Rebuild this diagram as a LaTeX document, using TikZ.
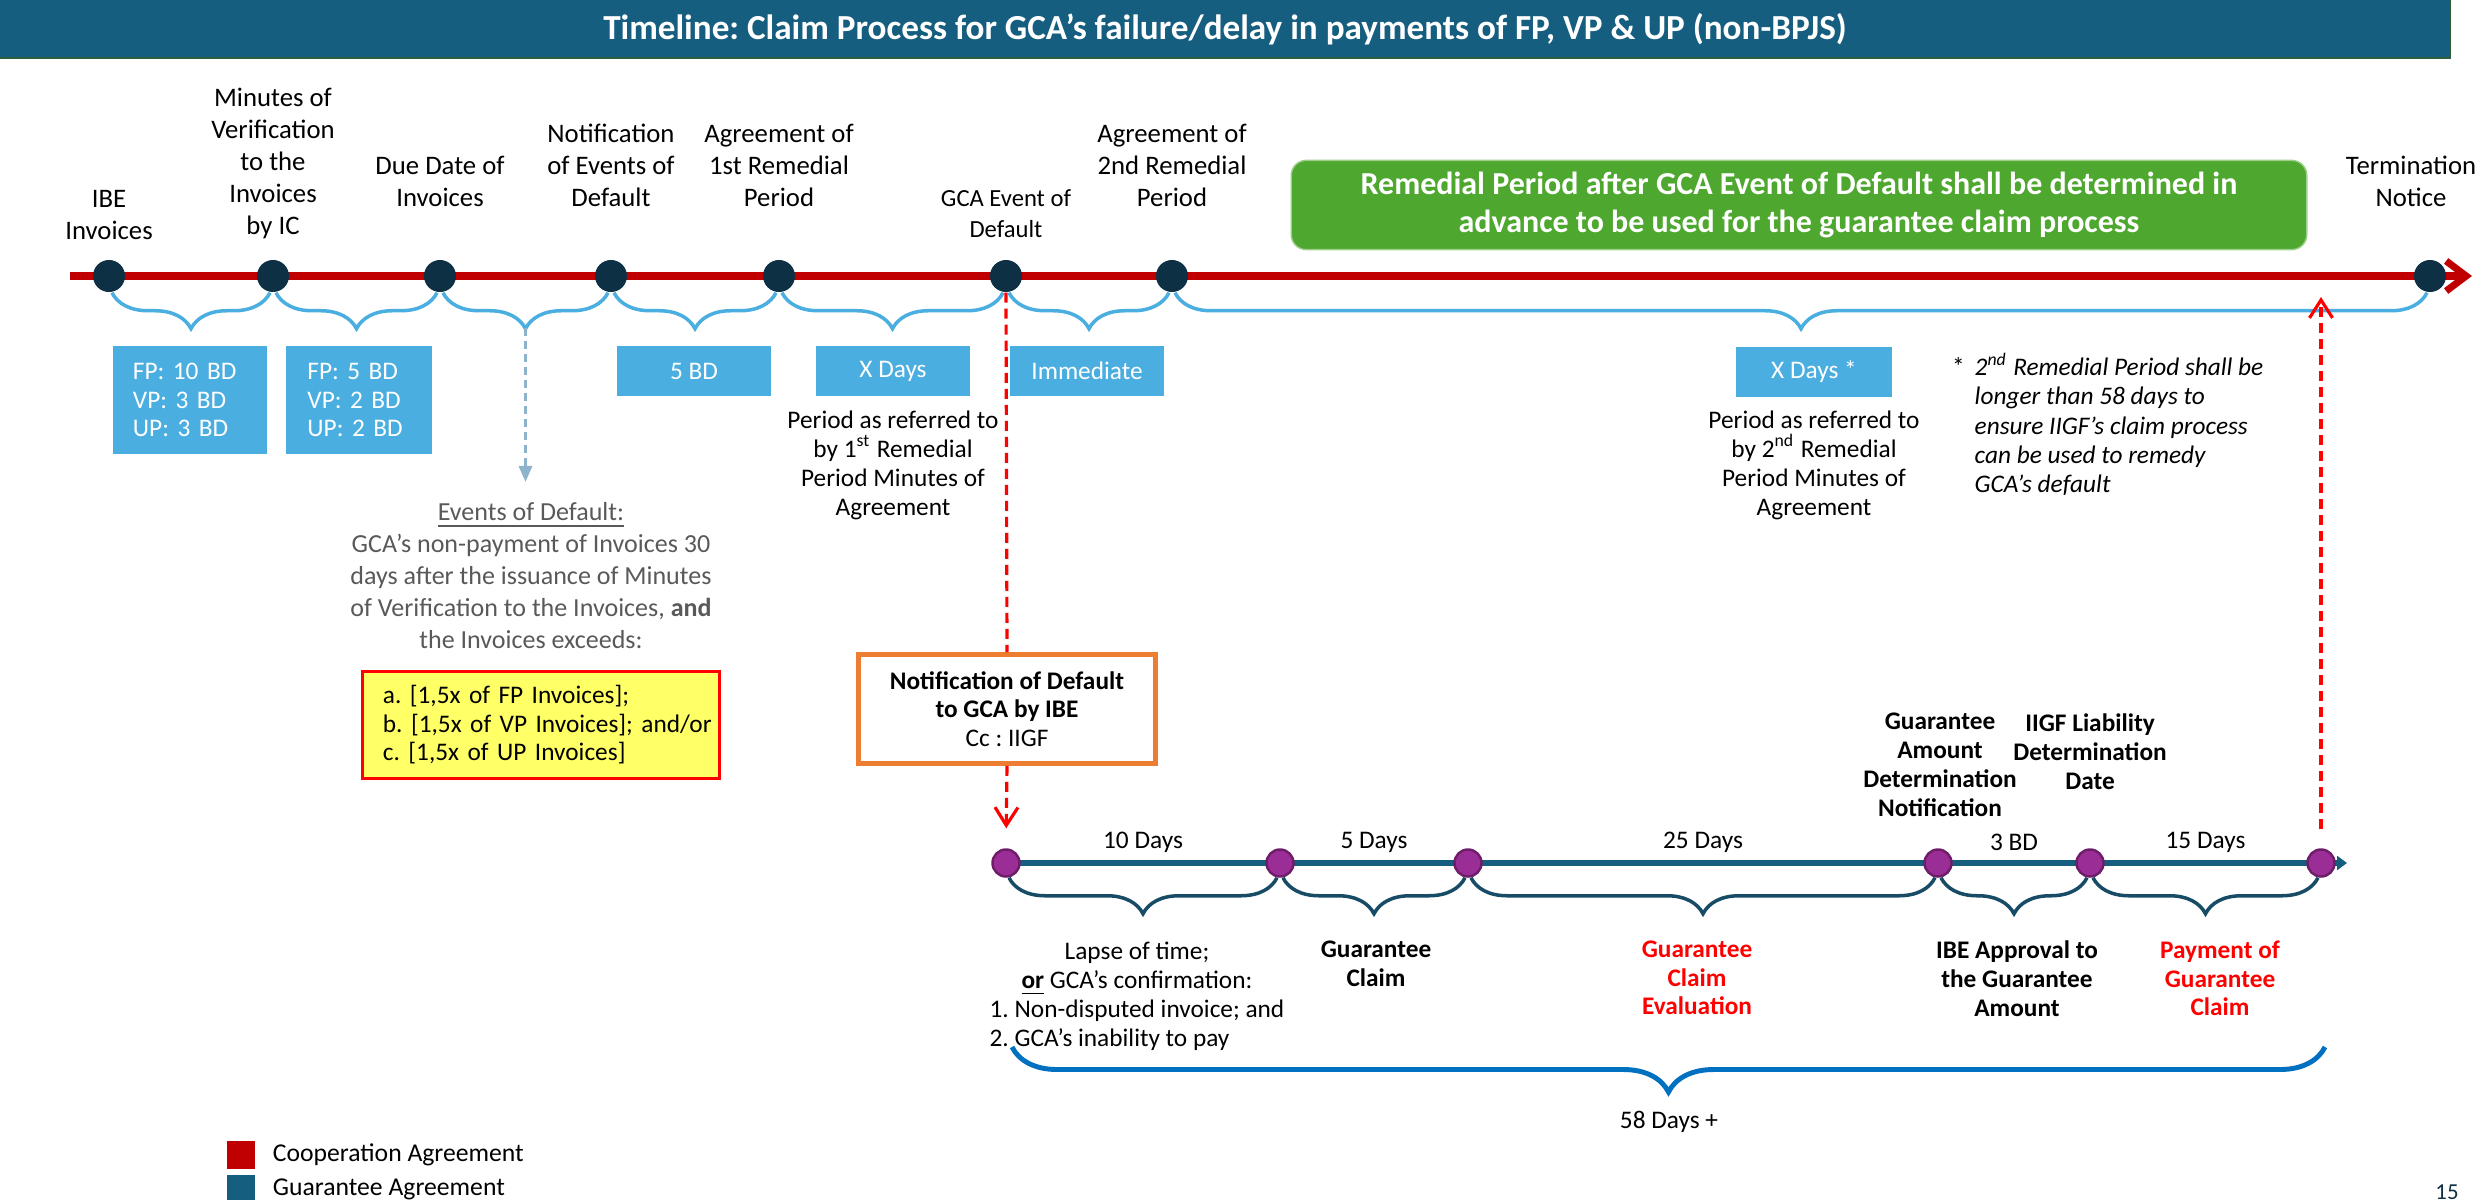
\documentclass[tikz,border=0pt]{standalone}
\usepackage{fontspec}
\setmainfont{Carlito}
\frenchspacing
\usetikzlibrary{calc, positioning, arrows.meta, decorations.pathreplacing}
\definecolor{titleblue}{RGB}{22,94,128}
\definecolor{titlerim}{RGB}{46,94,62}
\definecolor{coopred}{RGB}{192,0,0}
\definecolor{dotnavy}{RGB}{14,48,68}
\definecolor{skyblue}{RGB}{75,174,224}
\definecolor{guarteal}{RGB}{22,94,128}
\definecolor{bracenavy}{RGB}{24,76,102}
\definecolor{dotpurple}{RGB}{155,45,150}
\definecolor{rimpurple}{RGB}{110,30,105}
\definecolor{leafgreen}{RGB}{78,167,46}
\definecolor{boxorange}{RGB}{237,125,49}
\definecolor{notered}{RGB}{255,0,0}
\definecolor{textgray}{RGB}{89,89,89}
\definecolor{steel}{RGB}{142,180,203}
\definecolor{lemon}{RGB}{255,255,102}
\definecolor{brightblue}{RGB}{0,112,192}

\begin{document}
\begin{tikzpicture}[x=0.01cm, y=-0.01cm,
    lab/.style={font=\fontsize{7.6}{9.1}\selectfont, align=center, inner sep=0pt},
    note/.style={font=\fontsize{7.2}{8.3}\selectfont, align=center, inner sep=0pt},
    strong/.style={font=\fontsize{7.2}{8.2}\selectfont\bfseries, align=center, inner sep=0pt},
    evdot/.style={circle, fill=dotnavy, minimum size=0.32cm, inner sep=0pt},
    claimdot/.style={circle, fill=dotpurple, draw=rimpurple, line width=0.7pt, minimum size=0.27cm, inner sep=0pt},
    period/.style={fill=skyblue, text=white, font=\fontsize{7.2}{8.2}\selectfont, minimum height=0.49cm, inner sep=0pt},
    skybrace/.style={decorate, decoration={brace, mirror, amplitude=0.36cm}, draw=skyblue, line width=1pt},
    tealbrace/.style={decorate, decoration={brace, mirror, amplitude=0.36cm}, draw=bracenavy, line width=1pt},
    rdash/.style={draw=notered, line width=0.9pt, dash pattern=on 0.1cm off 0.06cm},
    rtip/.style={-{Straight Barb[length=0.18cm, width=0.23cm]}}]
  \useasboundingbox (0,0) rectangle (2484,1200);

  % title bar
  \fill[titleblue] (0,0) rectangle (2450,58);
  \draw[titlerim, line width=0.5pt] (0,58) -- (2450,58) -- (2450,0);
  \node[font=\fontsize{10}{11}\selectfont\bfseries, text=white] (title) at (1225,29)
    {Timeline: Claim Process for GCA’s failure/delay in payments of FP, VP \& UP (non-BPJS)};

  % cooperation agreement line
  \coordinate (redstart) at (70,276);
  \coordinate (redend) at (2472,276);
  \draw[coopred, line width=2pt, -{Straight Barb[length=0.2cm, width=0.3cm]}] (redstart) -- (redend);
  \foreach \x/\n in {109/ibe, 273/mov, 440/due, 611/notif, 779/agrone, 1006/gcaed, 1172/agrtwo, 2430/term}
    \node[evdot] (\n) at (\x,276) {};
  \foreach \a/\b in {ibe/mov, mov/due, due/notif, notif/agrone, agrone/gcaed, gcaed/agrtwo, agrtwo/term}
    \draw[skybrace] ([xshift=0.03cm]\a.south) -- ([xshift=-0.03cm]\b.south);

  \node[lab, anchor=south] (ibelab) at (ibe |- 0,240) {IBE\\Invoices};
  \node[lab, anchor=south] (movlab) at (mov |- 0,240) {Minutes of\\Verification\\to the\\Invoices\\by IC};
  \node[lab, anchor=south] (duelab) at (due |- 0,207) {Due Date of\\Invoices};
  \node[lab, anchor=south] (notiflab) at (notif |- 0,207) {Notification\\of Events of\\Default};
  \node[lab, anchor=south] (agronelab) at (agrone |- 0,207) {Agreement of\\1st Remedial\\Period};
  \node[lab, font=\fontsize{7}{8.6}\selectfont, anchor=south] (gcaedlab) at (gcaed |- 0,238) {GCA Event of\\Default};
  \node[lab, anchor=south] (agrtwolab) at (agrtwo |- 0,207) {Agreement of\\2nd Remedial\\Period};
  \node[lab, anchor=south] (termlab) at (2411,207) {Termination\\Notice};

  % remedial period banner
  \node[fill=leafgreen, draw=leafgreen!55, rounded corners=0.15cm, minimum width=10.15cm, minimum height=0.89cm,
        text=white, align=center, font=\fontsize{9.1}{10.8}\selectfont\bfseries] (remedy) at (1799,205)
    {Remedial Period after GCA Event of Default shall be determined in\\advance to be used for the guarantee claim process};

  % durations on the first line
  \node[period, minimum width=1.54cm, minimum height=1.07cm, align=left, text width=1.14cm, inner xsep=0.2cm] (fpten) at (190,400)
    {FP: 10 BD\\VP: 3 BD\\UP: 3 BD};
  \node[period, minimum width=1.45cm, minimum height=1.07cm, align=left, text width=1.03cm, inner xsep=0.21cm] (fpfive) at (359,400)
    {FP: 5 BD\\VP: 2 BD\\UP: 2 BD};
  \node[period, minimum width=1.53cm] (fivebd) at (694,371) {5 BD};
  \node[period, minimum width=1.53cm] (xdays) at (893,371) {X Days};
  \node[period, minimum width=1.54cm] (immediate) at (1087,371) {Immediate};
  \node[period, minimum width=1.55cm] (xdaysstar) at (1814,372) {X Days *};

  \node[note, anchor=north] (firstref) at (893,410)
    {Period as referred to\\by 1\textsuperscript{st} Remedial\\Period Minutes of\\Agreement};
  \node[note, anchor=north] (secondref) at (1814,410)
    {Period as referred to\\by 2\textsuperscript{nd} Remedial\\Period Minutes of\\Agreement};
  \node[note, font=\fontsize{7.2}{8.3}\selectfont\itshape, align=left, anchor=north west] (footnote) at (1974,352)
    {\llap{\upshape*\hspace{0.1cm}}2\textsuperscript{nd} Remedial Period shall be\\longer than 58 days to\\ensure IIGF’s claim process\\can be used to remedy\\GCA’s default};

  % events of default
  \coordinate (eodtip) at ($(due)!0.5!(notif)+(0,52)$);
  \node[lab, font=\fontsize{7.4}{9.1}\selectfont, text=textgray, anchor=north] (eod) at (531,502)
    {\underline{Events of Default:}\\GCA’s non-payment of Invoices 30\\days after the issuance of Minutes\\of Verification to the Invoices, \textbf{and}\\the Invoices exceeds:};
  \draw[steel, line width=0.9pt, dash pattern=on 0.08cm off 0.05cm, -{Triangle[length=0.16cm, width=0.13cm]},
        shorten >=0.2cm] (eodtip) -- (eodtip |- eod.north);
  \node[draw=notered, fill=lemon, line width=0.8pt, minimum width=3.56cm, minimum height=1.07cm, align=left,
        text width=3.16cm, inner xsep=0.2cm, font=\fontsize{7.2}{8.1}\selectfont] (limits) at (541,725)
    {\mbox{a. [1,5x of FP Invoices];}\\\mbox{b. [1,5x of VP Invoices]; and/or}\\\mbox{c. [1,5x of UP Invoices]}};

  % notification of default
  \node[draw=boxorange, line width=1.3pt, minimum width=2.97cm, minimum height=1.09cm, align=center,
        font=\fontsize{7.2}{8.1}\selectfont] (notice) at (1007,709)
    {\textbf{Notification of Default}\\\textbf{to GCA by IBE}\\Cc : IIGF};

  % guarantee agreement line
  \coordinate (claimstart) at (1006,863);
  \coordinate (claimend) at (2347,863);
  \draw[guarteal, line width=1.7pt, -{Triangle[length=0.1cm, width=0.14cm]}] (claimstart) -- (claimend);
  \foreach \x/\n in {1006/notify, 1280/claim, 1468/evaluate, 1938/amount, 2090/liability, 2321/payout}
    \node[claimdot] (\n) at (\x,863) {};
  \foreach \a/\b in {notify/claim, claim/evaluate, evaluate/amount, amount/liability, liability/payout}
    \draw[tealbrace] ([xshift=0.03cm]\a.south) -- ([xshift=-0.03cm]\b.south);

  \draw[rdash] (gcaed.south) -- (notice.north);
  \draw[rdash, rtip, shorten >=0.2cm] (notice.south) -- (notify.north);
  \coordinate (backup) at (2321,297);
  \draw[rdash, rtip, shorten <=0.19cm] (payout.north) -- (backup);

  \node[note] (tendays) at ($(notify)!0.5!(claim)+(0,-21)$) {10 Days};
  \node[note] (fivedays) at ($(claim)!0.5!(evaluate)+(0,-21)$) {5 Days};
  \node[note] (twentyfive) at ($(evaluate)!0.5!(amount)+(0,-21)$) {25 Days};
  \node[note] (threebd) at ($(amount)!0.5!(liability)+(0,-21)$) {3 BD};
  \node[note] (fifteen) at ($(liability)!0.5!(payout)+(0,-21)$) {15 Days};

  \node[strong, anchor=south] (gadn) at (1940,817) {Guarantee\\Amount\\Determination\\Notification};
  \node[strong, anchor=south] (ildd) at (2090,790) {IIGF Liability\\Determination\\Date};

  \node[inner sep=0pt, anchor=north, font=\fontsize{7.2}{8.3}\selectfont] (lapse) at (1137,938)
    {\begin{tabular}{@{}l@{}}\multicolumn{1}{@{}c@{}}{Lapse of time;}\\
      \multicolumn{1}{@{}c@{}}{\underline{\textbf{or}} GCA’s confirmation:}\\
      1. Non-disputed invoice; and\\2. GCA’s inability to pay\end{tabular}};
  \node[strong, anchor=north] (gclaim) at (1376,940) {Guarantee\\Claim};
  \node[strong, text=notered, anchor=north] (geval) at (1697,940) {Guarantee\\Claim\\Evaluation};
  \node[strong, anchor=north] (approve) at (2017,940) {IBE Approval to\\the Guarantee\\Amount};
  \node[strong, text=notered, anchor=north] (paid) at (2220,940) {Payment of\\Guarantee\\Claim};

  % total span
  \coordinate (sumleft) at (1012,1047);
  \coordinate (sumright) at (2325,1047);
  \draw[decorate, decoration={brace, mirror, amplitude=0.45cm}, draw=brightblue, line width=1.4pt] (sumleft) -- (sumright);
  \node[note] (total) at (1669,1122) {58 Days +};

  % legend
  \node[fill=coopred, minimum width=0.27cm, minimum height=0.28cm, inner sep=0pt] (coopkey) at (241,1155) {};
  \node[right=0.17cm of coopkey, inner sep=0pt, font=\fontsize{7.3}{9}\selectfont] (cooptext) {Cooperation Agreement};
  \node[fill=guarteal, minimum width=0.27cm, minimum height=0.28cm, inner sep=0pt] (guarkey) at (241,1189) {};
  \node[right=0.17cm of guarkey, inner sep=0pt, font=\fontsize{7.3}{9}\selectfont] (guartext) {Guarantee Agreement};
  \node[font=\fontsize{6.5}{8}\selectfont, text=dotnavy] (pagenum) at (2447,1192) {15};
\end{tikzpicture}
\end{document}
